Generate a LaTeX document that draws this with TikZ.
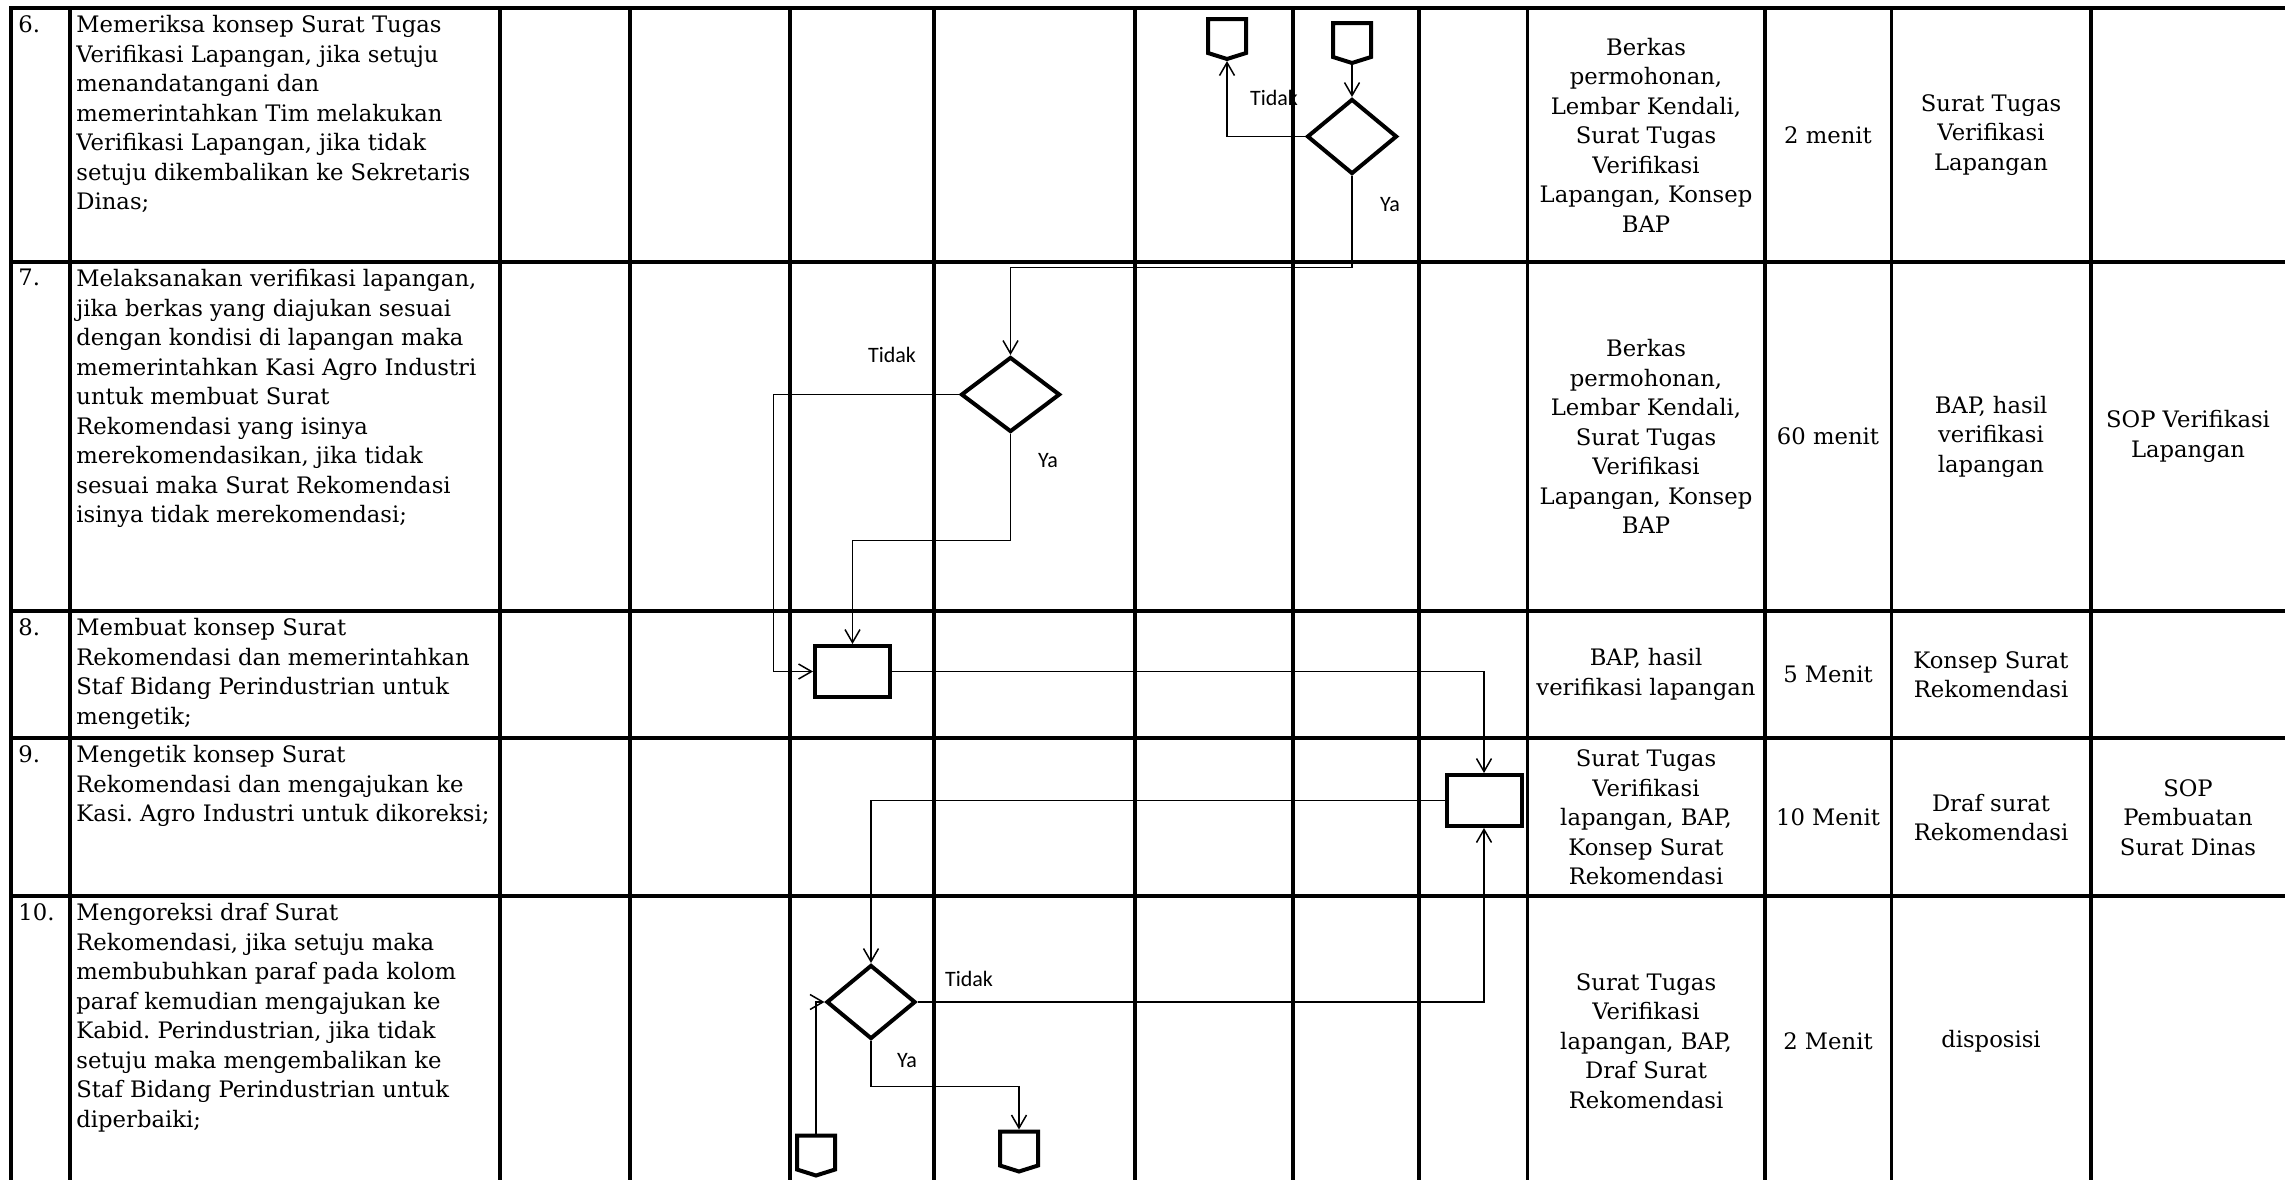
\documentclass[tikz,border=0pt]{standalone}
\usepackage{fontspec}
\setmainfont{DejaVu Serif}
\newfontfamily\lblfont{Carlito}
\usetikzlibrary{shapes.geometric,shapes.symbols,arrows.meta}
\frenchspacing
\tikzset{
  tabline/.style={line width=1.6pt,line cap=rect},
  proc/.style={draw,line width=2pt,minimum width=37.5pt,minimum height=25.5pt,inner sep=0},
  dec/.style={draw,diamond,line width=2pt,inner sep=0},
  offpage/.style={draw,signal,signal to=south,signal pointer angle=145,line width=2pt,
    minimum width=19pt,minimum height=17pt,inner sep=0},
  flow/.style={line width=0.75pt,-{Straight Barb[length=6.5pt,width=7.5pt]}},
  lbl/.style={font=\lblfont\fontsize{11}{13}\selectfont,inner sep=0},
  desc/.style={anchor=north west,align=left,inner sep=0,font=\fontsize{11.35}{14.75}\selectfont},
  cell/.style={align=center,inner sep=0,font=\fontsize{11.35}{14.75}\selectfont},
}
\begin{document}
\begin{tikzpicture}[x=0.5pt,y=-0.5pt]
\useasboundingbox (0,0) rectangle (2285,1179);
\foreach \y in {8,262,611,738,896}
  \draw[tabline](11,\y)--(2285,\y);
\foreach \x in {11,70,500,630,790,934,1135,1293,1419,1527.5,1765,1891.5,2091}
  \draw[tabline](\x,8)--(\x,1179);

% uraian kegiatan
\node[desc] (n6) at (18,15) {6.};
\node[desc] (d6) at (76,15) {Memeriksa konsep Surat Tugas\\Verifikasi Lapangan, jika setuju\\menandatangani dan\\memerintahkan Tim melakukan\\Verifikasi Lapangan, jika tidak\\setuju dikembalikan ke Sekretaris\\Dinas;};
\node[desc] (n7) at (18,269) {7.};
\node[desc] (d7) at (76,269) {Melaksanakan verifikasi lapangan,\\jika berkas yang diajukan sesuai\\dengan kondisi di lapangan maka\\memerintahkan Kasi Agro Industri\\untuk membuat Surat\\Rekomendasi yang isinya\\merekomendasikan, jika tidak\\sesuai maka Surat Rekomendasi\\isinya tidak merekomendasi;};
\node[desc] (n8) at (18,618) {8.};
\node[desc] (d8) at (76,618) {Membuat konsep Surat\\Rekomendasi dan memerintahkan\\Staf Bidang Perindustrian untuk\\mengetik;};
\node[desc] (n9) at (18,745) {9.};
\node[desc] (d9) at (76,745) {Mengetik konsep Surat\\Rekomendasi dan mengajukan ke\\Kasi. Agro Industri untuk dikoreksi;};
\node[desc] (n10) at (18,903) {10.};
\node[desc] (d10) at (76,903) {Mengoreksi draf Surat\\Rekomendasi, jika setuju maka\\membubuhkan paraf pada kolom\\paraf kemudian mengajukan ke\\Kabid. Perindustrian, jika tidak\\setuju maka mengembalikan ke\\Staf Bidang Perindustrian untuk\\diperbaiki;};

% kelengkapan, waktu, output, keterangan
\node[cell] (kel6) at (1646,135) {Berkas\\permohonan,\\Lembar Kendali,\\Surat Tugas\\Verifikasi\\Lapangan, Konsep\\BAP};
\node[cell] (wkt6) at (1828,135) {2 menit};
\node[cell] (out6) at (1991,135) {Surat Tugas\\Verifikasi\\Lapangan};
\node[cell] (kel7) at (1646,436.5) {Berkas\\permohonan,\\Lembar Kendali,\\Surat Tugas\\Verifikasi\\Lapangan, Konsep\\BAP};
\node[cell] (wkt7) at (1828,436.5) {60 menit};
\node[cell] (out7) at (1991,436.5) {BAP, hasil\\verifikasi\\lapangan};
\node[cell] (ket7) at (2188,436.5) {SOP Verifikasi\\Lapangan};
\node[cell] (kel8) at (1646,674.5) {BAP, hasil\\verifikasi lapangan};
\node[cell] (wkt8) at (1828,674.5) {5 Menit};
\node[cell] (out8) at (1991,674.5) {Konsep Surat\\Rekomendasi};
\node[cell] (kel9) at (1646,817.5) {Surat Tugas\\Verifikasi\\lapangan, BAP,\\Konsep Surat\\Rekomendasi};
\node[cell] (wkt9) at (1828,817.5) {10 Menit};
\node[cell] (out9) at (1991,817.5) {Draf surat\\Rekomendasi};
\node[cell] (ket9) at (2188,817.5) {SOP\\Pembuatan\\Surat Dinas};
\node[cell] (kel10) at (1646,1041) {Surat Tugas\\Verifikasi\\lapangan, BAP,\\Draf Surat\\Rekomendasi};
\node[cell] (wkt10) at (1828,1041) {2 Menit};
\node[cell] (out10) at (1991,1041) {disposisi};

% bagan alir
\node[offpage] (c1) at (1227,36) {};
\node[offpage] (c2) at (1352,40) {};
\node[dec,minimum width=45pt,minimum height=37.5pt] (dec1) at (1352,136.5) {};
\node[dec,minimum width=49.5pt,minimum height=37.5pt] (dec2) at (1010.5,394.5) {};
\node[proc] (box1) at (852.5,671.5) {};
\node[proc] (box2) at (1484,800.5) {};
\node[dec,minimum width=44.5pt,minimum height=37pt] (dec3) at (871,1002) {};
\node[offpage] (c3) at (816,1152.5) {};
\node[offpage] (c4) at (1019,1148.5) {};

\draw[flow](c2)--(dec1);
\draw[flow](dec1.west)-|(c1.south);
\draw[flow](dec1.south)--++(0,91.5)-|(dec2.north);
\draw[flow](dec2.west)--++(-185.5,0)|-(box1.west);
\draw[flow](dec2.south)--++(0,106.5)-|(box1.north);
\draw[flow](box1.east)-|(box2.north);
\draw[flow](box2.west)-|(dec3.north);
\draw[flow](dec3.east)-|(box2.south);
\draw[flow](dec3.south)--++(0,45.5)-|(c4.north);
\draw[flow](c3.north)|-(dec3.west);

\node[lbl] (t1) at (1274,98) {Tidak};
\node[lbl] (y1) at (1390,205) {Ya};
\node[lbl] (t2) at (892,355) {Tidak};
\node[lbl] (y2) at (1048,461) {Ya};
\node[lbl] (t3) at (969,979) {Tidak};
\node[lbl] (y3) at (907,1061) {Ya};
\end{tikzpicture}
\end{document}
